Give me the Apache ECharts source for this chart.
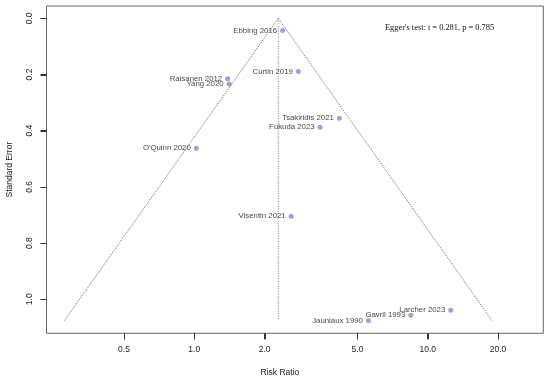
<!DOCTYPE html>
<html>
<head>
<meta charset="utf-8">
<script src="https://cdn.jsdelivr.net/npm/echarts@6/dist/echarts.min.js"></script>
<style>html,body{margin:0;padding:0;background:#fff;}#chart{width:550px;height:380px;}</style>
</head>
<body>
<div id="chart"></div>
<script>
const studies = ['Ebbing 2016', 'Curtin 2019', 'Raisanen 2012', 'Yang 2020', 'Tsakiridis 2021', 'Fukuda 2023', "O'Quinn 2020", 'Visentin 2021', 'Jauniaux 1990', 'Gavril 1993', 'Larcher 2023'];
const riskRatio = [2.39, 2.79, 1.39, 1.41, 4.18, 3.46, 1.02, 2.60, 5.57, 8.46, 12.55];
const stdError = [0.043, 0.189, 0.215, 0.234, 0.356, 0.388, 0.462, 0.704, 1.076, 1.057, 1.039];
const pooledRR = 2.29;
const xTicks = [0.5, 1.0, 2.0, 5.0, 10.0, 20.0];
const yTicks = [0.0, 0.2, 0.4, 0.6, 0.8, 1.0];
const eggerText = "Egger's test: t = 0.281, p = 0.785";

const seMax = Math.max(...stdError);
const center = Math.log10(pooledRR);
const half = 1.96 * seMax / Math.LN10;
const xMin = -0.633, xMax = 1.495, yMin = -0.0438, yMax = 1.121;

const chart = echarts.init(document.getElementById('chart'), null, {renderer: 'canvas'});
const axisColor = '#333';
const font = '"Liberation Sans", Arial, sans-serif';
const eggerGraphic = {
  id: 'egger', type: 'text', left: 385, top: 24, silent: true,
  style: {text: eggerText, font: '8.4px "Liberation Serif", "Times New Roman", serif', fill: '#111'}
};

chart.setOption({
  animation: false,
  backgroundColor: '#fff',
  grid: {left: 46.5, right: 6.7, top: 6, bottom: 46.7, show: true, borderColor: '#666', borderWidth: 1,
    backgroundColor: 'transparent', containLabel: false, outerBoundsMode: 'none'},
  xAxis: {
    type: 'value', min: xMin, max: xMax, position: 'bottom',
    name: 'Risk Ratio', nameLocation: 'middle', nameGap: 35,
    nameTextStyle: {fontFamily: font, fontSize: 8.5, color: '#222', padding: [0, 30, 0, 0]},
    axisLine: {show: false, onZero: false},
    splitLine: {show: false},
    axisTick: {show: true, inside: false, length: 6, customValues: xTicks.map(v => Math.log10(v)), lineStyle: {color: axisColor, width: 1}},
    axisLabel: {customValues: xTicks.map(v => Math.log10(v)), margin: 12, fontFamily: font, fontSize: 8.5, color: '#222',
      formatter: v => Math.pow(10, v).toFixed(1)}
  },
  yAxis: {
    type: 'value', inverse: true, min: yMin, max: yMax, position: 'left',
    name: 'Standard Error', nameLocation: 'middle', nameGap: 32,
    nameTextStyle: {fontFamily: font, fontSize: 8.5, color: '#222'},
    axisLine: {show: false, onZero: false},
    splitLine: {show: false},
    axisTick: {show: true, inside: false, length: 6, customValues: yTicks, lineStyle: {color: axisColor, width: 1}},
    axisLabel: {customValues: yTicks, rotate: 90, margin: 12, fontFamily: font, fontSize: 8.5, color: '#222',
      formatter: v => v.toFixed(1)}
  },
  graphic: [eggerGraphic],
  series: [
    {
      type: 'line', silent: true, symbol: 'none',
      data: [[center - half, seMax], [center, 0], [center + half, seMax]],
      lineStyle: {color: '#666', width: 0.8, type: [1.5, 1]}
    },
    {
      type: 'line', silent: true, symbol: 'none',
      data: [[center, 0], [center, seMax]],
      lineStyle: {color: '#777', width: 1, type: [1, 1.5]}
    },
    {
      type: 'scatter', silent: true, symbol: 'circle', symbolSize: 5,
      itemStyle: {color: '#a47ad2'},
      data: studies.map((s, i) => ({name: s, value: [Math.log10(riskRatio[i]), stdError[i]]})),
      label: {show: true, position: 'left', distance: 3, formatter: p => p.name,
        fontFamily: font, fontSize: 7.8, color: '#111'},
      labelLayout: {hideOverlap: false}
    }
  ]
});

// Tick marks placed through the chart's own scales
const tickGraphics = [eggerGraphic];
const bottomPx = chart.convertToPixel({gridIndex: 0}, [xMin, yMax])[1];
const leftPx = chart.convertToPixel({gridIndex: 0}, [xMin, yMax])[0];
xTicks.forEach((t, i) => {
  const px = chart.convertToPixel({gridIndex: 0}, [Math.log10(t), yMax])[0];
  tickGraphics.push({id: 'xt' + i, type: 'line', silent: true,
    shape: {x1: Math.round(px) + 0.5, y1: bottomPx, x2: Math.round(px) + 0.5, y2: bottomPx + 6},
    style: {stroke: axisColor, lineWidth: 1}});
});
yTicks.forEach((t, i) => {
  const py = chart.convertToPixel({gridIndex: 0}, [xMin, t])[1];
  tickGraphics.push({id: 'yt' + i, type: 'line', silent: true,
    shape: {x1: leftPx - 6, y1: Math.round(py) + 0.5, x2: leftPx, y2: Math.round(py) + 0.5},
    style: {stroke: axisColor, lineWidth: 1}});
});
chart.setOption({graphic: tickGraphics});
</script>
</body>
</html>
